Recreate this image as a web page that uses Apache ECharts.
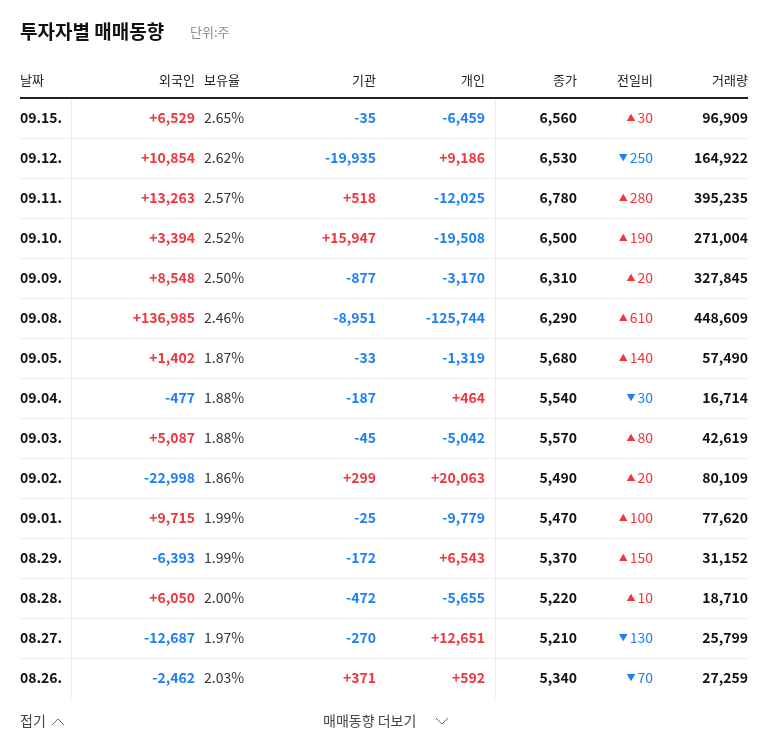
<!DOCTYPE html>
<html><head><meta charset="utf-8">
<script src="https://cdn.jsdelivr.net/npm/echarts@6/dist/echarts.min.js"></script>
<style>html,body{margin:0;background:#fff}#main{width:768px;height:749px}</style>
</head><body><div id="main"></div>
<script>
var dates = ['09.15.','09.12.','09.11.','09.10.','09.09.','09.08.','09.05.','09.04.','09.03.','09.02.','09.01.','08.29.','08.28.','08.27.','08.26.'];
var foreign = [6529,10854,13263,3394,8548,136985,1402,-477,5087,-22998,9715,-6393,6050,-12687,-2462];
var holdRatio = ['2.65%','2.62%','2.57%','2.52%','2.50%','2.46%','1.87%','1.88%','1.88%','1.86%','1.99%','1.99%','2.00%','1.97%','2.03%'];
var institution = [-35,-19935,518,15947,-877,-8951,-33,-187,-45,299,-25,-172,-472,-270,371];
var individual = [-6459,9186,-12025,-19508,-3170,-125744,-1319,464,-5042,20063,-9779,6543,-5655,12651,592];
var closePrice = [6560,6530,6780,6500,6310,6290,5680,5540,5570,5490,5470,5370,5220,5210,5340];
var change = [30,-250,280,190,20,610,140,-30,80,20,100,150,10,-130,-70];
var volume = [96909,164922,395235,271004,327845,448609,57490,16714,42619,80109,77620,31152,18710,25799,27259];
var headers = ['날짜','외국인','보유율','기관','개인','종가','전일비','거래량'];

var RED = '#f0353d', BLUE = '#1b7ff5', DARK = '#111';
var FONT = '"Noto Sans CJK KR", "Noto Sans", sans-serif';
function fmt(n){ return Math.abs(n).toLocaleString('en-US'); }
function signed(n){ return (n > 0 ? '+' : '-') + fmt(n); }
function txt(x, y, s, align, color, size, weight){
    return { type: 'text', x: x, y: y, style: { text: s, align: align, verticalAlign: 'middle',
        fill: color, font: (weight || 'normal') + ' ' + size + 'px ' + FONT } };
}

var els = [];
els.push(txt(20, 32, '투자자별 매매동향', 'left', DARK, 19, 'bold'));
els.push(txt(190, 32, '단위:주', 'left', '#8a8a8a', 13));
var hx = [[20,'left'],[195,'right'],[204,'left'],[376,'right'],[485,'right'],[577,'right'],[653,'right'],[748,'right']];
headers.forEach(function(h, i){ els.push(txt(hx[i][0], 80, h, hx[i][1], '#222', 13)); });
els.push({ type: 'line', shape: { x1: 20, y1: 98, x2: 748, y2: 98 }, style: { stroke: '#222', lineWidth: 2 } });
els.push({ type: 'line', shape: { x1: 71.5, y1: 99, x2: 71.5, y2: 698 }, style: { stroke: '#ececec', lineWidth: 1 } });
els.push({ type: 'line', shape: { x1: 495.5, y1: 99, x2: 495.5, y2: 698 }, style: { stroke: '#ececec', lineWidth: 1 } });

dates.forEach(function(d, i){
    var y = 118 + i * 40;
    if (i < dates.length - 1)
        els.push({ type: 'line', shape: { x1: 20, y1: y + 20.5, x2: 748, y2: y + 20.5 }, style: { stroke: '#ececec', lineWidth: 1 } });
    els.push(txt(20, y, d, 'left', DARK, 14, 'bold'));
    els.push(txt(195, y, signed(foreign[i]), 'right', foreign[i] > 0 ? RED : BLUE, 14, 'bold'));
    els.push(txt(204, y, holdRatio[i], 'left', '#333', 14));
    els.push(txt(376, y, signed(institution[i]), 'right', institution[i] > 0 ? RED : BLUE, 14, 'bold'));
    els.push(txt(485, y, signed(individual[i]), 'right', individual[i] > 0 ? RED : BLUE, 14, 'bold'));
    els.push(txt(577, y, fmt(closePrice[i]), 'right', DARK, 14, 'bold'));
    var up = change[i] > 0, c = up ? RED : BLUE;
    els.push({ type: 'text', x: 653, y: y, style: {
        text: '{t|' + (up ? '▲' : '▼') + '}{n|' + fmt(change[i]) + '}', align: 'right', verticalAlign: 'middle',
        rich: { t: { fill: c, fontSize: 9, fontFamily: FONT, padding: [0, 2, 0, 0] }, n: { fill: c, fontSize: 14, fontFamily: FONT } } } });
    els.push(txt(748, y, fmt(volume[i]), 'right', DARK, 14, 'bold'));
});

els.push(txt(20, 721, '접기', 'left', '#444', 14));
els.push({ type: 'polyline', shape: { points: [[52, 725], [58, 719], [64, 725]] }, style: { stroke: '#666', lineWidth: 1, fill: null } });
els.push(txt(323, 721, '매매동향 더보기', 'left', '#444', 14));
els.push({ type: 'polyline', shape: { points: [[436, 718], [442, 724], [448, 718]] }, style: { stroke: '#666', lineWidth: 1, fill: null } });

var myChart = echarts.init(document.getElementById('main'));
myChart.setOption({ backgroundColor: '#fff', graphic: { elements: els } });
</script></body></html>
